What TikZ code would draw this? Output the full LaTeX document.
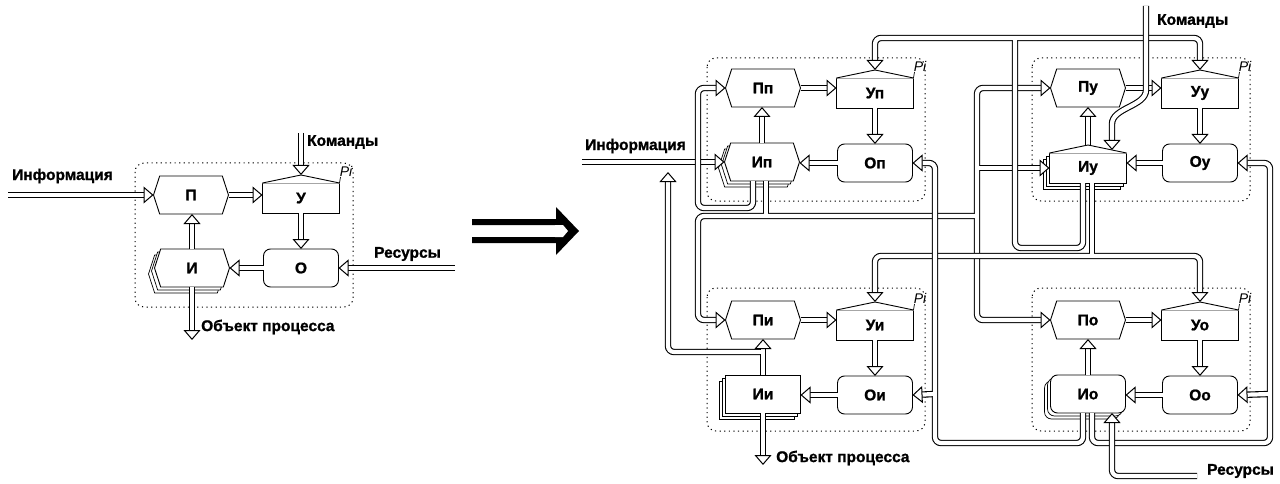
\documentclass[tikz,border=0pt]{standalone}
\usepackage{fontspec}
\setmainfont{Liberation Sans}[BoldFeatures={FakeBold=1.2}]
\usetikzlibrary{arrows.meta,shapes.symbols,shadows}

\tikzset{
  >={Triangle[open,fill=white,length=10pt,width=17pt,line width=1pt]},
  txt/.style={font=\bfseries\fontsize{15.5}{18}\selectfont, inner sep=0pt},
  box/.style={txt, draw, fill=white, line width=0.9pt, outer sep=0pt,
              minimum width=75pt, minimum height=38pt},
  pbox/.style={box, shape=signal, signal to=west and east, signal pointer angle=144},
  ubox/.style={box, minimum width=77pt, minimum height=30pt},
  obox/.style={box, rounded corners=7pt},
  ibox/.style={box},
  stack/.style={
    copy shadow={shadow xshift=-6pt, shadow yshift=-6pt, fill=white, draw=black, line width=0.7pt},
    copy shadow={shadow xshift=-3pt, shadow yshift=-3pt, fill=white, draw=black, line width=0.7pt}},
  pipe/.style={double=white, double distance=4.2pt, line width=1.1pt, rounded corners=6pt},
  dl/.style={pipe, ->},
  gap/.style={white, line width=4.1pt},
  grp/.style={line width=1pt, dash pattern=on 1.2pt off 3.4pt, rounded corners=9pt},
  flag/.style={font=\itshape\fontsize{14}{14}\selectfont, inner sep=0pt, anchor=south west},
}

\begin{document}
\begin{tikzpicture}[x=1pt, y=-1pt]
\useasboundingbox (0,0) rectangle (1280,484);

% один процесс
\draw[grp] (135,163) rectangle (353,307);
\node[pbox] (P) at (191,195) {П};
\node[ubox] (U) at (301,198) {У};
\node[pbox, stack] (I) at (192,268) {И};
\node[obox] (O) at (301,268) {О};

\coordinate (infoL) at (8,195);
\coordinate (komL) at (301,133);
\coordinate (resL) at (455,268);
\coordinate (objL) at (192,340);
\node[txt, anchor=west] (infoLt) at (12,176) {Информация};
\node[txt, anchor=west] (komLt) at (307,142) {Команды};
\node[txt, anchor=west] (resLt) at (374,254) {Ресурсы};
\node[txt, anchor=west] (objLt) at (201,327) {Объект процесса};

\draw[dl] (P.east) -- (P.east -| U.west);
\draw[dl] (U.south) -- (O.north);
\draw[dl] (O.west) -- (O.west -| I.east);
\draw[dl] (I.north) -- (I.north |- P.south);

% переход
\fill (472,219) rectangle (558,225) (472,237) rectangle (558,243);
\fill (556,207) -- (579,231) -- (556,255) -- cycle;
\fill[white] (555,225) -- (563,225) -- (568,231) -- (563,237) -- (555,237) -- cycle;

% четыре процесса
\foreach \dx/\dy in {0/0, 325/0, 0/230, 325/230}
  \draw[grp] ({707+\dx},{58+\dy}) rectangle ({925+\dx},{201+\dy});

\foreach \s/\lt/\dx/\dy in {p/п/0/0, u/у/325/0, i/и/0/232, o/о/325/232}{
  \node[pbox] (P\s) at ({763+\dx},{88+\dy}) {П\lt};
  \node[ubox] (U\s) at ({875+\dx},{93+\dy}) {У\lt};
  \node[obox] (O\s) at ({875+\dx},{163+\dy}) {О\lt};
}
\node[pbox, stack] (Ip) at (762,162) {Ип};
\node[ubox, stack] (Iu) at (1088,168) {Иу};
\node[ibox, stack] (Ii) at (763,394) {Ии};
\node[obox, stack] (Io) at (1088,394) {Ио};

% от Ии наверх
\coordinate (ji) at (763,352);
\coordinate (fbR) at (668,172);
\draw[dl] (ji) -- (668,352) -- (fbR);

\foreach \s in {p,u,i,o}{
  \draw[dl] (P\s.east) -- (P\s.east -| U\s.west);
  \draw[dl] (U\s.south) -- (O\s.north);
  \draw[dl] (O\s.west) -- (O\s.west -| I\s.east);
  \draw[dl] (I\s.north) -- (I\s.north |- P\s.south);
}
\draw[gap] (ji) -- ++(-4,0);

% крыши и флажки
\foreach \n in {U,Up,Uu,Ui,Uo,Iu}{
  \fill[white] ([yshift=-0.7pt]\n.north west) -- ([yshift=0.7pt]\n.north west)
    -- ([yshift=8pt]\n.north) -- ([yshift=0.7pt]\n.north east)
    -- ([yshift=-0.7pt]\n.north east) -- cycle;
  \draw[line width=0.9pt] (\n.north west) -- ([yshift=8pt]\n.north) -- (\n.north east);
}
\foreach \n in {U,Up,Uu,Ui,Uo}
  \draw[line width=0.7pt] (\n.north east) -- ++(1pt,6pt) node[flag, xshift=-1pt] (f\n) {Pi};

% левый процесс: входы и выходы
\draw[dl] (infoL) -- (P.west);
\draw[dl] (komL) -- ([yshift=8pt]U.north);
\draw[dl] (resL) -- (O.east);
\draw[dl] (I.south) -- (objL);

% правая схема: входы и выходы
\coordinate (infoR) at (582,162);
\coordinate (komR) at (1146,6);
\coordinate (resR) at (1197,476);
\coordinate (objR) at (763,465);
\node[txt, anchor=west] (infoRt) at (585,146) {Информация};
\node[txt, anchor=west] (komRt) at (1157,21) {Команды};
\node[txt, anchor=west] (resRt) at (1207,471) {Ресурсы};
\node[txt, anchor=west] (objRt) at (776,458) {Объект процесса};

\draw[dl] (infoR) -- (Ip.west);
\draw[dl] (Ii.south) -- (objR);

% связи от Ип
\coordinate (ja) at (766,216);
\coordinate (jb) at (977,216);
\coordinate (jc) at (977,168);
\draw[dl] ([xshift=-9pt]Ip.south) |- (698,208) -- (698,88) -- (Pp.west);
\draw[pipe] ([xshift=4pt]Ip.south) -- (ja);
\draw[dl] (jc) -- (Iu.west);
\draw[pipe, <-] (Pi.west) -- (698,320) -- (698,216) -- (jb);
\draw[pipe, <->] (Pu.west) -- (977,88) -- (977,320) -- (Po.west);
\draw[gap] (ja) -- ++(0,-4);
\draw[gap] (jb) -- ++(-4,0);
\draw[gap] (jc) -- ++(4,0);

% связи от Иу
\coordinate (jd) at (1015,38);
\coordinate (je) at (1092,256);
\draw[pipe] ([xshift=-5pt]Iu.south) |- (1015,248) -- (jd);
\draw[pipe, <->] ([yshift=8pt]Up.north) |- (jd) -| ([yshift=8pt]Uu.north);
\draw[pipe] ([xshift=4pt]Iu.south) -- (je);
\draw[pipe, <->] ([yshift=8pt]Ui.north) |- (je) -| ([yshift=8pt]Uo.north);
\draw[gap] (jd) -- ++(0,4);
\draw[gap] (je) -- ++(0,-4);

% связи от Ио
\coordinate (jf) at (935,394);
\coordinate (jg) at (1270,394);
\draw[dl] (jf) -- (Oi.east);
\draw[dl] (jg) -- (Oo.east);
\draw[dl] ([xshift=-5pt]Io.south) |- (935,443) -- (935,163) -- (Op.east);
\draw[dl] ([xshift=4pt]Io.south) |- (1270,443) -- (1270,163) -- (Ou.east);
\draw[gap] (jf) -- ++(-4,0);
\draw[gap] (jg) -- ++(-4,0);

% команды и ресурсы
\draw[dl] (komR) -- (1146,84) to[out=-90,in=90] (1112,130) -- ([xshift=24pt,yshift=3pt]Iu.north);
\draw[dl] (resR) -| ([xshift=24pt]Io.south);
\end{tikzpicture}
\end{document}
